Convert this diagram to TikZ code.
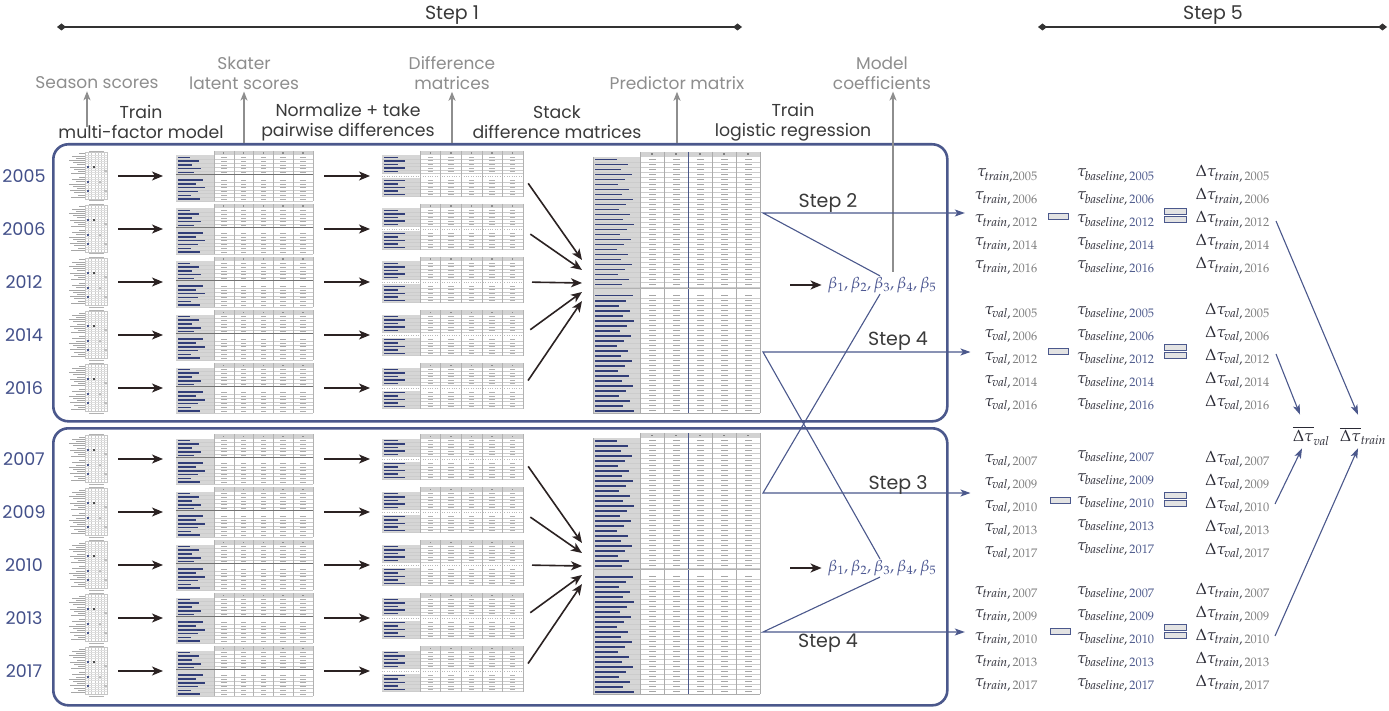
\documentclass[tikz,border=0pt]{standalone}
\usepackage{mathpazo}
\usepackage[no-math]{fontspec}
\setmainfont{Poppins}
\usetikzlibrary{arrows.meta,calc}
\definecolor{navy}{HTML}{4B588C}
\definecolor{yearnavy}{HTML}{43508A}
\definecolor{lblgray}{HTML}{8E8E8E}
\definecolor{steptxt}{HTML}{3A3A3A}
\definecolor{arrblack}{HTML}{2B2222}
\definecolor{yrg}{HTML}{808080}
\definecolor{basenavy}{HTML}{4F5C8E}
\definecolor{cellgray}{HTML}{D2D2D2}
\definecolor{labgray}{HTML}{D6D6D6}
\definecolor{txtnavy}{HTML}{323E78}
\definecolor{mathdark}{HTML}{2A2A35}
\definecolor{betanavy}{HTML}{4A5590}

\newcommand\seasontbl[2]{%
\begin{scope}[shift={(#1,#2)}]
 \fill[black!30] (27,0.6) rectangle (42,1.5);
 \draw[gray!45,line width=0.3pt] (23.5,2.5) rectangle (45,49);
 \foreach \k in {1,...,6} \draw[gray!40,line width=0.3pt] (23.5+\k*3.07,2.5) -- ++(0,46.5);
 \foreach \j in {1,...,20} \draw[gray!25,line width=0.25pt] (23.5,2.5+\j*2.2) -- ++(21.5,0);
 \foreach \i in {0,...,9} {
   \pgfmathsetmacro\L{6+mod(\i*7,11)}
   \fill[black!35] (22.5-\L,3.5+\i*2.2) rectangle (22.5,4.3+\i*2.2);
   \fill[black!35] (22.5-\L,27.1+\i*2.2) rectangle (22.5,27.9+\i*2.2);}
 \fill[navy] (24.5,16) rectangle (26.8,18.2);
 \fill[black!70] (30.6,16) rectangle (32.9,18.2);
 \fill[navy] (24.5,31) rectangle (26.8,33.2);
 \fill[navy] (24.5,40) rectangle (26.8,42.2);
 \fill[gray!50] (36.8,31) rectangle (39,33.2);
 \fill[gray!50] (42,40) rectangle (44.5,42.2);
 \fill[gray!50] (42,20) rectangle (44.5,22.2);
 \fill[black!30] (27,50.5) rectangle (42,51.4);
\end{scope}}

\newcommand\latenttbl[2]{%
\begin{scope}[shift={(#1,#2)}]
 \fill[cellgray] (38,0) rectangle (137,4.5);
 \fill[labgray] (0,4.5) rectangle (38,50);
 \foreach \i in {0,...,10} {
  \pgfmathsetmacro\yy{\i<5 ? 4.5+\i*3.8 : 8.3+\i*3.8}
  \pgfmathsetmacro\L{14+mod(\i*9,16)}
  \fill[txtnavy] (1.5,\yy+1.1) rectangle (\L,\yy+2.6);
  \foreach \k in {0,...,4} \fill[black!32] (38+\k*19.8+7,\yy+1.5) rectangle ++(5.5,1);
  \draw[gray!40,line width=0.25pt] (0,\yy+3.8) -- ++(137,0);
 }
 \foreach \k in {0,...,4} \fill[black!45] (38+\k*19.8+9,1.5) rectangle ++(1.4,1.4);
 \foreach \k in {0,...,5} \draw[gray!60,line width=0.3pt] (38+\k*19.8,0) -- ++(0,50);
 \draw[black!55,line width=0.4pt] (0,23.5) -- (137,23.5);
\end{scope}}

\newcommand\difftbl[2]{%
\begin{scope}[shift={(#1,#2)}]
 \fill[cellgray] (38,0) rectangle (141,4.5);
 \fill[labgray] (0,4.5) rectangle (38,22.5);
 \fill[labgray] (0,27.5) rectangle (38,46);
 \foreach \i in {0,...,9} {
  \pgfmathsetmacro\yy{\i<5 ? 4.5+\i*3.6 : 9.5+\i*3.6}
  \pgfmathsetmacro\L{16+mod(\i*7,14)}
  \fill[txtnavy] (1.5,\yy+1.1) rectangle (\L,\yy+2.5);
  \foreach \k in {0,...,4} \fill[black!30] (38+\k*20.6+7.5,\yy+1.4) rectangle ++(5.5,1);
  \draw[gray!40,line width=0.25pt] (0,\yy+3.6) -- ++(141,0);
 }
 \foreach \k in {0,...,4} \fill[black!45] (38+\k*20.6+9.5,1.5) rectangle ++(1.4,1.4);
 \foreach \k in {0,...,5} \draw[gray!60,line width=0.3pt] (38+\k*20.6,0) -- ++(0,46);
 \draw[gray!55,dotted,line width=0.4pt] (0,25) -- (141,25);
\end{scope}}

\newcommand\predtbl[2]{%
\begin{scope}[shift={(#1,#2)}]
 \fill[cellgray] (47,0) rectangle (167,5);
 \fill[labgray] (0,5) rectangle (47,261);
 \foreach \i in {0,...,49} {
  \pgfmathsetmacro\yy{\i<26 ? 5+\i*5 : 11+\i*5}
  \pgfmathsetmacro\L{24+mod(\i*11,18)}
  \fill[txtnavy] (1.5,\yy+1.6) rectangle (\L,\yy+3.5);
  \foreach \k in {0,...,4} \fill[black!35] (47+\k*24+8.5,\yy+2) rectangle ++(7,1.2);
  \draw[gray!40,line width=0.3pt] (0,\yy+5) -- ++(167,0);
 }
 \foreach \k in {0,...,4} \fill[black!50] (47+\k*24+11,1.5) rectangle ++(1.8,1.8);
 \foreach \k in {0,1,3,4,5} \draw[gray!65,line width=0.35pt] (47+\k*24,0) -- ++(0,261);
 \draw[navy,line width=0.5pt] (95,0) -- ++(0,261);
 \draw[gray!65,line width=0.35pt] (0,5) -- (0,261) -- (167,261);
 \draw[gray!60,line width=0.4pt] (0,136) -- (167,136);
\end{scope}}

\tikzset{
 tblnode/.style={inner sep=0pt, outer sep=0pt, anchor=north west},
 grayup/.style={draw=lblgray, line width=1.6pt, -{Stealth[length=9pt,width=7pt,inset=2.5pt]}},
 tarrow/.style={draw=arrblack, line width=1.6pt, -{Stealth[length=11pt,width=9pt,inset=3pt]}},
 stepline/.style={draw=navy, line width=1.1pt, -{Stealth[length=10pt,width=7pt,inset=2.5pt]}},
 outerbox/.style={draw=navy, line width=2.6pt, rounded corners=15pt, inner sep=0pt, anchor=north west},
 lbl/.style={text=lblgray, font=\fontsize{17}{20}\selectfont, align=center, inner sep=0pt},
 act/.style={text=steptxt, font=\fontsize{17.3}{20}\selectfont, align=center, inner sep=0pt},
 yr/.style={text=yearnavy, font=\fontsize{17.5}{20}\selectfont, inner sep=0pt},
 steplbl/.style={text=steptxt, font=\fontsize{19}{22}\selectfont, inner sep=0pt},
 mth/.style={text=mathdark, font=\fontsize{16.3}{19}\selectfont, inner sep=0pt},
 betatxt/.style={text=betanavy, font=\fontsize{16}{19}\selectfont, inner sep=0pt},
 opbox/.style={draw=navy, fill=gray!22, line width=0.8pt, minimum width=20pt, minimum height=6pt, inner sep=0pt},
 eqbox/.style={opbox, minimum width=22pt},
 topline/.style={draw=black!80, line width=1.1pt, {Diamond[length=9pt,width=7pt]}-{Diamond[length=9pt,width=7pt]}},
}

\begin{document}
\begin{tikzpicture}[x=1pt,y=-1pt]
\useasboundingbox (0,0) rectangle (1389,711);
\fill[white] (0,0) rectangle (1389,711);

% top step bars
\node[steplbl] (st1) at (452,15) {Step 1};
\node[steplbl] (st5) at (1213,15) {Step 5};
\coordinate (l1a) at (57,27); \coordinate (l1b) at (742,27);
\coordinate (l5a) at (1038,27); \coordinate (l5b) at (1387,27);
\draw[topline] (l1a) -- (l1b);
\draw[topline] (l5a) -- (l5b);

% outer boxes
\node[outerbox, minimum width=894pt, minimum height=277pt] (box1) at (52,143) {};
\node[outerbox, minimum width=894pt, minimum height=277pt] (box2) at (52,427) {};

% gray labels
\node[lbl] (seas) at (97,83) {Season scores};
\node[lbl] (skat) at (244,73) {Skater\\latent scores};
\node[lbl] (dmat) at (452,73) {Difference\\matrices};
\node[lbl] (pmat) at (677,83) {Predictor matrix};
\node[lbl] (modc) at (882,73) {Model\\coefficients};

% action labels
\node[act] (act1) at (141,122) {Train\\multi-factor model};
\node[act] (act2) at (348,122) {Normalize + take\\pairwise differences};
\node[act] (act3) at (557,122) {Stack\\difference matrices};
\node[act] (act4) at (793,122) {Train\\logistic regression};

% tables
\foreach \n/\t/\yr in {1/151/2005,2/204/2006,3/257/2012,4/310/2014,5/363/2016,6/434/2007,7/487/2009,8/540/2010,9/593/2013,10/646/2017} {
  \seasontbl{62}{\t-1}
  \latenttbl{176}{\t}
  \difftbl{382}{\t}
  \node[tblnode, minimum width=45pt, minimum height=53pt] (s\n) at (62,\t-1) {};
  \node[tblnode, minimum width=137pt, minimum height=50pt] (l\n) at (176,\t) {};
  \node[tblnode, minimum width=141pt, minimum height=50pt] (d\n) at (382,\t) {};
  \node[yr] (y\n) at (24,\t+25) {\yr};
  \draw[tarrow, shorten <=11pt, shorten >=13pt] (s\n.east |- l\n.west) -- (l\n.west);
  \draw[tarrow, shorten <=11pt, shorten >=12pt] (l\n.east) -- (d\n.west);
}
\predtbl{593}{152}
\predtbl{593}{433}
\node[tblnode, minimum width=167pt, minimum height=261pt] (p1) at (593,152) {};
\node[tblnode, minimum width=167pt, minimum height=261pt] (p2) at (593,433) {};

\foreach \n/\ey in {1/260,2/270,3/283,4/292,5/301,6/543,7/553,8/566,9/575,10/584} {
  \coordinate (c\n) at (582,\ey);
  \draw[tarrow, shorten <=9pt] (d\n.east) -- (c\n);
}

% betas
\node[betatxt] (b1) at (882,285) {$\beta_1, \beta_2, \beta_3, \beta_4, \beta_5$};
\node[betatxt] (b2) at (882,568) {$\beta_1, \beta_2, \beta_3, \beta_4, \beta_5$};
\draw[tarrow, shorten <=30pt, shorten >=6pt] (p1.east |- b1.west) -- (b1.west);
\draw[tarrow, shorten <=30pt, shorten >=6pt] (p2.east |- b2.west) -- (b2.west);

% gray up arrows
\coordinate (sa) at (87,127);
\draw[grayup, shorten >=2pt] (sa) -- (sa |- seas.south);
\draw[grayup, shorten >=2pt] (skat.south |- box1.north) -- (skat.south);
\draw[grayup, shorten >=2pt] (dmat.south |- box1.north) -- (dmat.south);
\draw[grayup, shorten >=2pt] (pmat.south |- box1.north) -- (pmat.south);
\coordinate (mc) at (893,272);
\draw[grayup, shorten >=2pt] (mc) -- (mc |- modc.south);

% right side: box 1 train
\node[mth, anchor=base east] (a1) at (1038,177) {$\tau_{\mathit{train},\textcolor{yrg}{2005}}$};
\foreach \n/\yr in {2/2006,3/2012,4/2014,5/2016}
  \node[mth, anchor=base east] (a\n) at (1038,154+23*\n) {$\tau_{\mathit{train},\,\textcolor{yrg}{\yr}}$};
\foreach \n/\yr in {1/2005,2/2006,3/2012,4/2014,5/2016} {
  \node[mth, anchor=base west] (ab\n) at (1077,154+23*\n) {$\tau_{\mathit{baseline},\,\textcolor{basenavy}{\yr}}$};
  \node[mth, anchor=base east] (ad\n) at (1270,154+23*\n) {$\Delta\tau_{\mathit{train},\,\textcolor{yrg}{\yr}}$};
}
% box 1 val
\foreach \n/\yr in {1/2005,2/2006,3/2012,4/2014,5/2016} {
  \node[mth, anchor=base east] (v\n) at (1038,291+23*\n) {$\tau_{\mathit{val},\,\textcolor{yrg}{\yr}}$};
  \node[mth, anchor=base west] (vb\n) at (1077,291+23*\n) {$\tau_{\mathit{baseline},\,\textcolor{basenavy}{\yr}}$};
  \node[mth, anchor=base east] (vd\n) at (1270,291+23*\n) {$\Delta\tau_{\mathit{val},\,\textcolor{yrg}{\yr}}$};
}
% box 2 val
\foreach \n/\yr in {1/2007,2/2009,3/2010,4/2013,5/2017} {
  \node[mth, anchor=base east] (w\n) at (1038,439+23*\n) {$\tau_{\mathit{val},\,\textcolor{yrg}{\yr}}$};
  \node[mth, anchor=base west] (wb\n) at (1077,435+23*\n) {$\tau_{\mathit{baseline},\,\textcolor{basenavy}{\yr}}$};
  \node[mth, anchor=base east] (wd\n) at (1270,439+23*\n) {$\Delta\tau_{\mathit{val},\,\textcolor{yrg}{\yr}}$};
}
% box 2 train
\foreach \n/\yr in {1/2007,2/2009,3/2010,4/2013,5/2017} {
  \node[mth, anchor=base east] (t\n) at (1038,571+23*\n) {$\tau_{\mathit{train},\,\textcolor{yrg}{\yr}}$};
  \node[mth, anchor=base west] (tb\n) at (1077,571+23*\n) {$\tau_{\mathit{baseline},\,\textcolor{basenavy}{\yr}}$};
  \node[mth, anchor=base east] (td\n) at (1270,571+23*\n) {$\Delta\tau_{\mathit{train},\,\textcolor{yrg}{\yr}}$};
}

% minus and equal signs
\node[opbox] (m1) at (1058,216) {};
\node[eqbox] (e1a) at (1175,211) {}; \node[eqbox] (e1b) at (1175,219.5) {};
\node[opbox] (m2) at (1058,351) {};
\node[eqbox] (e2a) at (1175,347) {}; \node[eqbox] (e2b) at (1175,355.5) {};
\node[opbox] (m3) at (1060,500.5) {};
\node[eqbox] (e3a) at (1175,495.5) {}; \node[eqbox] (e3b) at (1175,503) {};
\node[opbox] (m4) at (1060,631) {};
\node[eqbox] (e4a) at (1175,627) {}; \node[eqbox] (e4b) at (1175,635) {};

% averages
\node[mth] (avgv) at (1311,436) {$\overline{\Delta\tau}_{\mathit{val}}$};
\node[mth] (avgt) at (1363,436) {$\overline{\Delta\tau}_{\mathit{train}}$};

% step connectors
\coordinate (s2) at (763,213);
\coordinate (s4a) at (763,352);
\coordinate (s3) at (763,493);
\coordinate (s4b) at (763,632);
\draw[stepline, shorten >=10pt] ($(b1.north)+(-2,-1)$) -- (s2) -- (s2 -| a3.west);
\draw[stepline, shorten >=14pt] ($(b2.north)+(-2,-1)$) -- (s4a) -- (s4a -| v3.west);
\draw[stepline, shorten >=14pt] ($(b1.south)+(-2,1)$) -- (s3) -- (s3 -| w3.west);
\draw[stepline, shorten >=10pt] ($(b2.south)+(-2,1)$) -- (s4b) -- (s4b -| t3.west);
\node[steplbl] (lab2) at (828,203) {Step 2};
\node[steplbl] (lab4a) at (898,341) {Step 4};
\node[steplbl] (lab3) at (898,485) {Step 3};
\node[steplbl] (lab4b) at (828,643) {Step 4};

% to averages
\draw[stepline] ($(ad3.base east)+(6,-2)$) -- ($(avgt.north)+(-5,-12)$);
\draw[stepline] ($(vd3.base east)+(6,-6)$) -- ($(avgv.north)+(-11,-12)$);
\draw[stepline] ($(wd3.base east)+(5,-4)$) -- ($(avgv.south)+(-9,3)$);
\draw[stepline] ($(td3.base east)+(5,-4)$) -- ($(avgt.south)+(-5,3)$);
\end{tikzpicture}
\end{document}
